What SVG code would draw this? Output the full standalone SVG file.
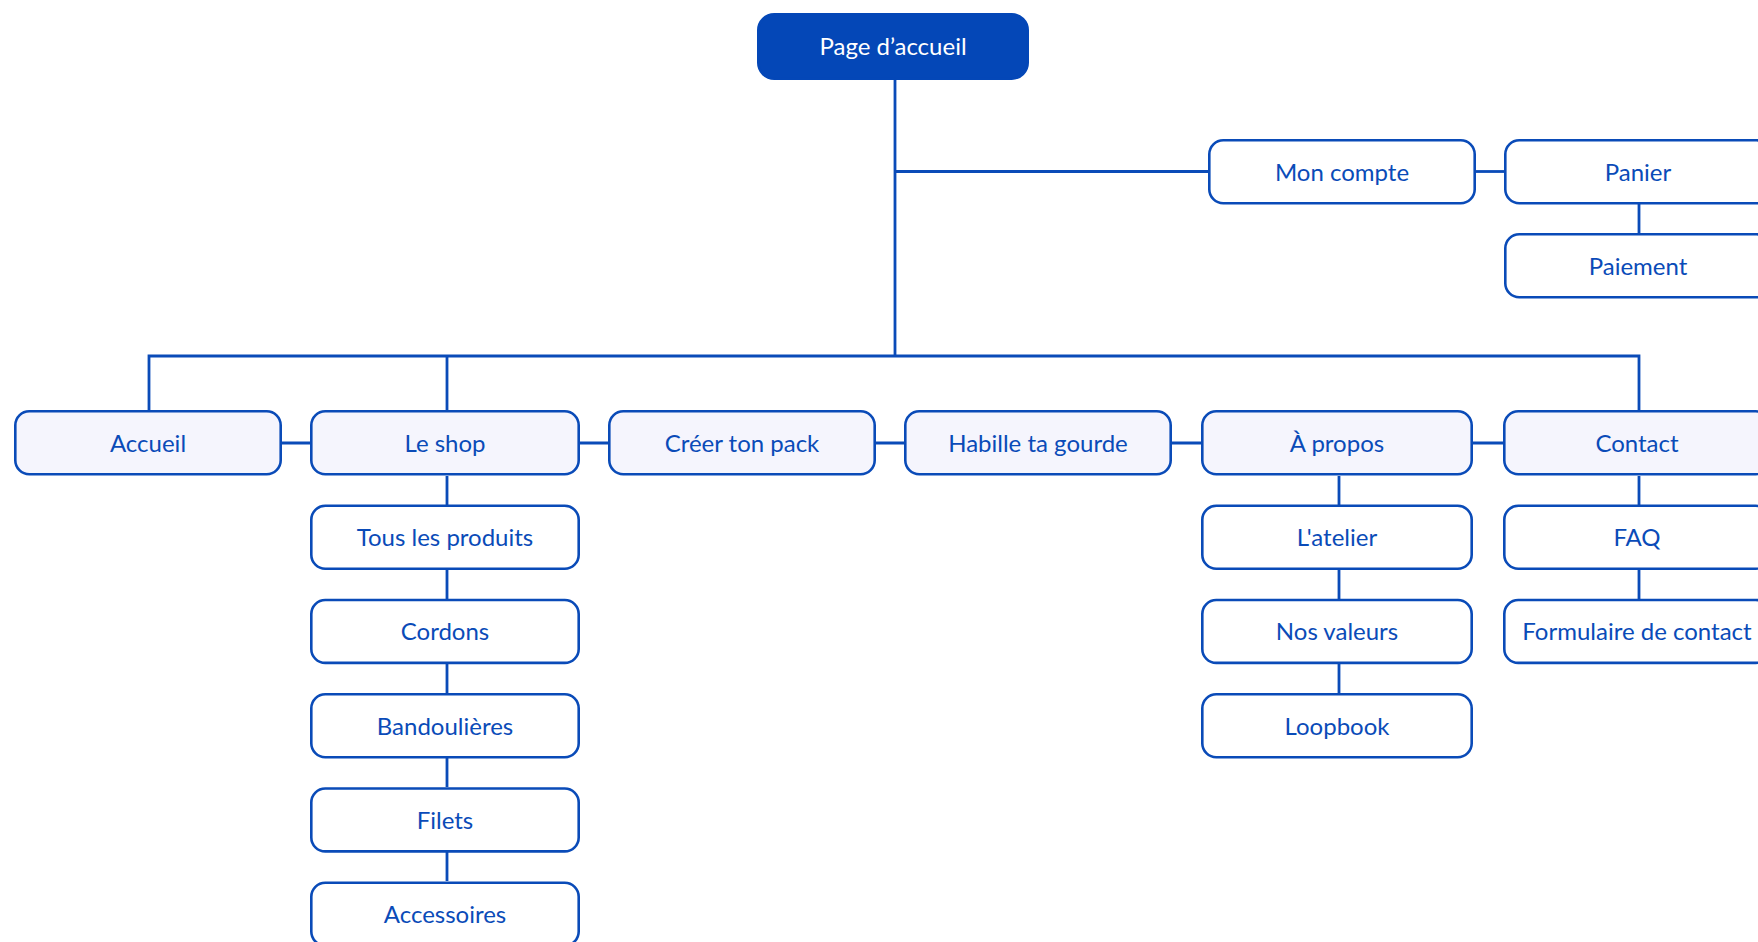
<svg xmlns="http://www.w3.org/2000/svg" width="1758" height="942" viewBox="0 0 1758 942">
<style>
.box{fill:#ffffff;stroke:#0a4bb8;stroke-width:2.6}
.main{fill:#f5f5fd}
.root{fill:#0447b7;stroke:#0447b7;stroke-width:2.6}
.lbl{font-family:Lato,"Liberation Sans",sans-serif;font-size:24px;fill:#0a4bb8;text-anchor:middle}
.rootlbl{fill:#ffffff}
.conn{stroke:#0a4bb8;stroke-width:2.8;fill:none}
</style>
<rect width="1758" height="942" fill="#ffffff"/>
<g id="connectors" class="conn">
<path d="M895 80V356"/>
<path d="M895 171.5H1208"/>
<path d="M1476 171.5H1504"/>
<path d="M1639 204V233"/>
<path d="M149 410V356H1639V410"/>
<path d="M447 356V410"/>
<path d="M282 443H310M580 443H608M876 443H904M1172 443H1201M1473 443H1503"/>
<path d="M447 476V505M447 569V599M447 663V693M447 758V787M447 852V881"/>
<path d="M1339 476V505M1339 569V599M1339 663V693"/>
<path d="M1639 476V505M1639 569V599"/>
</g>
<g id="n-root"><rect class="root" x="758.3" y="14.3" width="269.4" height="64.4" rx="16"/><text class="lbl rootlbl" x="893" y="55">Page d’accueil</text></g>
<g id="n-moncompte"><rect class="box" x="1209.3" y="140.3" width="265.4" height="62.9" rx="14"/><text class="lbl" x="1342" y="180.5">Mon compte</text></g>
<g id="n-panier"><rect class="box" x="1505.3" y="140.3" width="265.4" height="62.9" rx="14"/><text class="lbl" x="1638" y="180.5">Panier</text></g>
<g id="n-paiement"><rect class="box" x="1505.3" y="234.3" width="265.4" height="62.9" rx="14"/><text class="lbl" x="1638" y="274.5">Paiement</text></g>
<g id="n-accueil"><rect class="box main" x="15.3" y="411.3" width="265.4" height="62.9" rx="14"/><text class="lbl" x="148" y="451.5">Accueil</text></g>
<g id="n-leshop"><rect class="box main" x="311.3" y="411.3" width="267.4" height="62.9" rx="14"/><text class="lbl" x="445" y="451.5">Le shop</text></g>
<g id="n-creer"><rect class="box main" x="609.3" y="411.3" width="265.4" height="62.9" rx="14"/><text class="lbl" x="742" y="451.5">Créer ton pack</text></g>
<g id="n-habille"><rect class="box main" x="905.3" y="411.3" width="265.4" height="62.9" rx="14"/><text class="lbl" x="1038" y="451.5">Habille ta gourde</text></g>
<g id="n-apropos"><rect class="box main" x="1202.3" y="411.3" width="269.4" height="62.9" rx="14"/><text class="lbl" x="1337" y="451.5">À propos</text></g>
<g id="n-contact"><rect class="box main" x="1504.3" y="411.3" width="265.4" height="62.9" rx="14"/><text class="lbl" x="1637" y="451.5">Contact</text></g>
<g id="n-tous"><rect class="box" x="311.3" y="505.8" width="267.4" height="62.9" rx="14"/><text class="lbl" x="445" y="546">Tous les produits</text></g>
<g id="n-cordons"><rect class="box" x="311.3" y="600" width="267.4" height="62.9" rx="14"/><text class="lbl" x="445" y="640.2">Cordons</text></g>
<g id="n-bandoulieres"><rect class="box" x="311.3" y="694.3" width="267.4" height="62.9" rx="14"/><text class="lbl" x="445" y="734.5">Bandoulières</text></g>
<g id="n-filets"><rect class="box" x="311.3" y="788.5" width="267.4" height="62.9" rx="14"/><text class="lbl" x="445" y="828.7">Filets</text></g>
<g id="n-accessoires"><rect class="box" x="311.3" y="882.7" width="267.4" height="62.9" rx="14"/><text class="lbl" x="445" y="923">Accessoires</text></g>
<g id="n-atelier"><rect class="box" x="1202.3" y="505.8" width="269.4" height="62.9" rx="14"/><text class="lbl" x="1337" y="546">L'atelier</text></g>
<g id="n-valeurs"><rect class="box" x="1202.3" y="600" width="269.4" height="62.9" rx="14"/><text class="lbl" x="1337" y="640.2">Nos valeurs</text></g>
<g id="n-loopbook"><rect class="box" x="1202.3" y="694.3" width="269.4" height="62.9" rx="14"/><text class="lbl" x="1337" y="734.5">Loopbook</text></g>
<g id="n-faq"><rect class="box" x="1504.3" y="505.8" width="265.4" height="62.9" rx="14"/><text class="lbl" x="1637" y="546">FAQ</text></g>
<g id="n-formulaire"><rect class="box" x="1504.3" y="600" width="265.4" height="62.9" rx="14"/><text class="lbl" x="1637" y="640.2">Formulaire de contact</text></g>
</svg>
